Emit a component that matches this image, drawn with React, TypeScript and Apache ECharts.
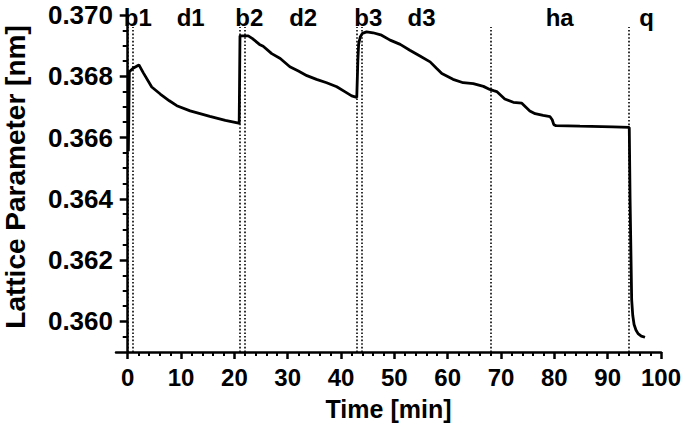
import React, { useEffect, useRef } from "react";
import * as echarts from "echarts";

// Time [min]
const times = [
  0.12, 0.3, 1.0, 2.1, 2.9, 4.5, 6.1, 7.8, 9.2, 11.7, 15.4, 18.3, 20.8, 20.9,
  21.05, 22.6, 23.4, 24.7, 25.4, 27.0, 28.6, 30.4, 32.0, 33.6, 35.4, 37.3, 39.2, 40.7, 42.0, 42.95,
  43.15, 43.3, 43.6, 44.0, 44.8, 46.0, 47.6, 49.2, 51.1, 52.9, 54.8, 56.7, 57.9, 58.9, 61.0, 62.9,
  64.8, 66.7, 67.9, 68.6, 69.2, 70.7, 72.3, 73.9, 75.4, 76.4, 77.9, 79.2, 79.6, 79.9, 80.3, 84.8,
  91.0, 94.05, 94.2, 94.3, 94.5, 94.7, 94.95, 95.3, 95.7, 96.3, 97.0,
];
// Lattice parameter [nm]
const lattice = [
  0.36555, 0.36815, 0.36826, 0.36837, 0.36812, 0.36765, 0.36742, 0.3672, 0.36704, 0.36687, 0.36669,
  0.36656, 0.36647, 0.36645,
  0.36932, 0.36932, 0.36923, 0.36904, 0.36898, 0.36874, 0.36858, 0.36831, 0.36817, 0.36802, 0.3679,
  0.36779, 0.36766, 0.3675, 0.36736, 0.36731,
  0.3685, 0.36905, 0.36928, 0.3694, 0.36945, 0.36942, 0.36934, 0.36918, 0.36904, 0.36885, 0.36866,
  0.36847, 0.36826, 0.36809, 0.3679, 0.36779, 0.36776, 0.36767, 0.36757, 0.36753, 0.3675, 0.36726,
  0.36715, 0.36712, 0.36687, 0.36678, 0.36672, 0.36668, 0.36658, 0.36642, 0.36639, 0.36637, 0.36635,
  0.36633, 0.364, 0.3629, 0.3607, 0.3602, 0.3599, 0.35972, 0.3596, 0.35952, 0.35948,
];

// Stage boundaries (dotted lines) and stage labels
const dividerTimes = [0, 1, 21, 21.9, 43, 43.9, 68, 94];
const stageNames = ["b1", "d1", "b2", "d2", "b3", "d3", "ha", "q"];
const stageLabelTimes = [1.9, 11.8, 22.8, 32.9, 45.1, 55.1, 81, 97.3];

const xMajorTicks = [0, 10, 20, 30, 40, 50, 60, 70, 80, 90, 100];
const xMinorTicks = Array.from({ length: 50 }, (_, i) => (i + 1) * 2).filter((v) => v % 10 !== 0);
const yMajorTicks = [0.36, 0.362, 0.364, 0.366, 0.368, 0.37];
const yMinorTicks = Array.from({ length: 21 }, (_, i) => +(0.3595 + i * 0.0005).toFixed(4)).filter(
  (v) => !yMajorTicks.some((m) => Math.abs(m - v) < 1e-7)
);

const X_MIN = -2.2;
const X_MAX = 100;
const Y_MIN = 0.359;
const Y_MAX = 0.37;
const DIV_TOP = 0.36961;
const LABEL_Y = 0.36992;

const FONT = "Liberation Sans, Arial, sans-serif";

export default function App() {
  const ref = useRef<HTMLDivElement>(null);
  useEffect(() => {
    if (!ref.current) return;
    const chart = echarts.init(ref.current, null, { renderer: "svg" });
    const lineData = times.map((t, i) => [t, lattice[i]]);
    const markLines = dividerTimes.map((t) => [
      { coord: [t, Y_MIN] },
      { coord: [t, DIV_TOP] },
    ]);
    const labelData = stageNames.map((n, i) => ({ value: [stageLabelTimes[i], LABEL_Y], name: n }));
    const axisLineStyle = { color: "#000", width: 2.5 };
    chart.setOption({
      animation: false,
      grid: {
        left: 116,
        right: 24,
        top: 15,
        bottom: 76,
        containLabel: false,
        outerBoundsMode: "none",
      },
      graphic: [
        {
          type: "text",
          x: 15,
          y: 177,
          rotation: Math.PI / 2,
          style: {
            text: "Lattice Parameter [nm]",
            fontFamily: FONT,
            fontWeight: "bold",
            fontSize: 28,
            fill: "#000",
            align: "center",
            verticalAlign: "middle",
          },
        },
      ],
      xAxis: [
        {
          type: "value",
          min: X_MIN,
          max: X_MAX,
          position: "bottom",
          name: "Time [min]",
          nameLocation: "middle",
          nameGap: 44,
          nameTextStyle: { fontFamily: FONT, fontWeight: "bold", fontSize: 25, color: "#000" },
          axisLine: { show: true, lineStyle: axisLineStyle },
          axisTick: { show: true, customValues: xMajorTicks, length: 7, lineStyle: { color: "#000", width: 2.5 } },
          axisLabel: {
            show: true,
            customValues: xMajorTicks,
            margin: 13,
            fontFamily: FONT,
            fontWeight: "bold",
            fontSize: 24,
            color: "#000",
          },
          splitLine: { show: false },
        },
        {
          type: "value",
          min: X_MIN,
          max: X_MAX,
          position: "bottom",
          axisLine: { show: false },
          axisTick: { show: true, customValues: xMinorTicks, length: 4, lineStyle: { color: "#000", width: 2 } },
          axisLabel: { show: false },
          splitLine: { show: false },
        },
      ],
      yAxis: [
        {
          type: "value",
          min: Y_MIN,
          max: Y_MAX,
          position: "left",
          axisLine: { show: true, lineStyle: axisLineStyle },
          axisTick: { show: true, customValues: yMajorTicks, length: 8, lineStyle: { color: "#000", width: 2.5 } },
          axisLabel: {
            show: true,
            customValues: yMajorTicks,
            margin: 3,
            formatter: (v: number) => v.toFixed(3),
            fontFamily: FONT,
            fontWeight: "bold",
            fontSize: 26,
            lineHeight: 22,
            color: "#000",
          },
          splitLine: { show: false },
        },
        {
          type: "value",
          min: Y_MIN,
          max: Y_MAX,
          position: "left",
          axisLine: { show: false },
          axisTick: { show: true, customValues: yMinorTicks, length: 5, lineStyle: { color: "#000", width: 2 } },
          axisLabel: { show: false },
          splitLine: { show: false },
        },
      ],
      series: [
        {
          type: "line",
          data: lineData,
          xAxisIndex: 0,
          yAxisIndex: 0,
          showSymbol: false,
          symbol: "none",
          lineStyle: { color: "#000", width: 2.8 },
          markLine: {
            silent: true,
            symbol: ["none", "none"],
            label: { show: false },
            lineStyle: { color: "#000", width: 1.6, type: [1.6, 2] },
            data: markLines,
          },
          z: 3,
        },
        {
          type: "scatter",
          data: labelData,
          xAxisIndex: 0,
          yAxisIndex: 0,
          symbolSize: 0,
          silent: true,
          itemStyle: { opacity: 1, color: "#000" },
          label: {
            show: true,
            position: "inside",
            formatter: (p: any) => p.name,
            fontFamily: FONT,
            fontWeight: "bold",
            fontSize: 24,
            color: "#000",
            opacity: 1,
          },
        },
      ],
    });
    return () => chart.dispose();
  }, []);
  return (
    <div
      ref={ref}
      style={{ position: "fixed", left: 0, top: 0, width: 685, height: 428, background: "#fff" }}
    />
  );
}
